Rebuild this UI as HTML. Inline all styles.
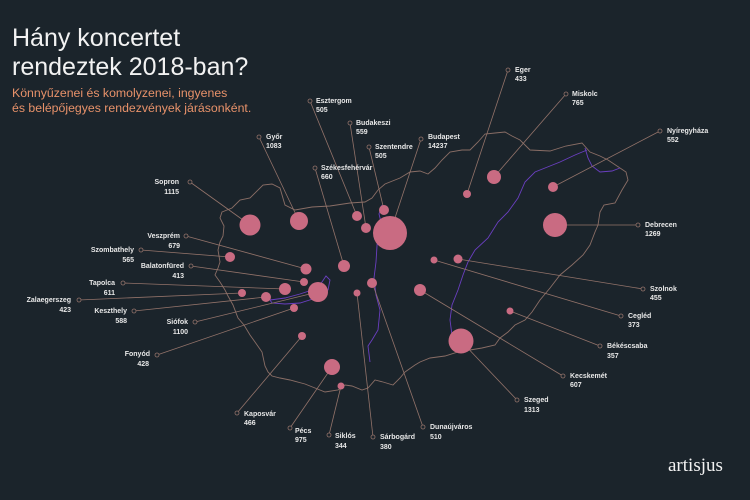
<!DOCTYPE html>
<html><head><meta charset="utf-8"><style>
html,body{margin:0;padding:0;background:#1b242b;}
svg{display:block}
text{font-family:"Liberation Sans",sans-serif;}
.l{font-size:7px;fill:#e8e8e8;font-weight:bold}
</style></head><body>
<svg width="750" height="500" viewBox="0 0 750 500">
<rect width="750" height="500" fill="#1b242b"/>
<text x="12" y="46" font-size="25" fill="#f2f2f2">Hány koncertet</text>
<text x="12" y="75" font-size="25" fill="#f2f2f2">rendeztek 2018-ban?</text>
<text x="12" y="97" font-size="12.3" fill="#e8926a">Könnyűzenei és komolyzenei, ingyenes</text>
<text x="12" y="112" font-size="12.3" fill="#e8926a">és belépőjegyes rendezvények járásonként.</text>
<text x="668" y="471" font-size="19" fill="#f2f2f2" style="font-family:'Liberation Serif',serif">artisjus</text>
<g fill="none" stroke-width="0.9">
<path stroke="#8a6e66" d="M222,212 L232,208 L240,200 L250,198 L263,185 L272,184 L280,188 L285,205 L295,210 L312,207 L330,206 L350,203 L365,202 L372,198 L378,190 L385,184 L400,178 L410,172 L420,171 L428,174 L435,168 L442,160 L450,152 L462,150 L470,150 L478,142 L485,134 L495,133 L505,132 L512,136 L520,140 L530,150 L550,151 L566,146 L582,143 L590,152 L600,156 L608,160 L620,168 L626,172 L628,180 L622,190 L615,203 L604,205 L600,212 L598,225 L595,232 L590,245 L583,255 L572,265 L560,275 L550,288 L540,300 L532,312 L525,320 L515,325 L508,332 L500,338 L495,345 L482,348 L470,350 L458,352 L445,356 L430,358 L420,362 L415,365 L405,372 L400,378 L393,385 L383,382 L375,380 L368,388 L362,390 L352,386 L345,385 L338,390 L325,392 L315,388 L305,384 L290,380 L280,378 L272,376 L268,372 L265,366 L262,352 L255,342 L250,335 L244,325 L238,318 L233,305 L228,296 L225,290 L220,282 L215,275 L218,268 L220,262 L218,250 L220,242 L223,236 L224,226 L220,218 Z"/>
<path stroke="#6a3fc0" d="M382,205 L379,214 L381,222 L378,232 L377,246 L376,262 L374,278 L376,295 L380,310 L378,330 L372,340 L368,346 L370,362"/>
<path stroke="#6a3fc0" d="M585,148 L588,158 L592,166 L600,172 L612,171 L620,168 M587,150 L575,155 L560,162 L545,168 L535,172 L525,182 L518,198 L508,212 L498,222 L488,238 L475,250 L468,262 L463,275 L458,290 L452,305 L450,320 L452,335 L455,345"/>
<path stroke="#6a3fc0" d="M270,300 L285,298 L300,294 L312,290 L322,282 L326,276 L330,280 L328,290 L316,298 L300,303 L285,304 L272,303 Z"/>
</g>
<g stroke="#93736a" stroke-width="0.8" fill="none">
<line x1="467" y1="194" x2="508" y2="70"/>
<line x1="494" y1="177" x2="566" y2="94"/>
<line x1="553" y1="187" x2="660" y2="131"/>
<line x1="555" y1="225" x2="638" y2="225"/>
<line x1="458" y1="259" x2="643" y2="289"/>
<line x1="434" y1="260" x2="621" y2="316"/>
<line x1="510" y1="311" x2="600" y2="346"/>
<line x1="420" y1="290" x2="563" y2="376"/>
<line x1="461" y1="341" x2="517" y2="400"/>
<line x1="372" y1="282" x2="423" y2="427"/>
<line x1="357" y1="293" x2="373" y2="437"/>
<line x1="341" y1="386" x2="329" y2="435"/>
<line x1="332" y1="367" x2="290" y2="428"/>
<line x1="302" y1="336" x2="237" y2="413"/>
<line x1="294" y1="308" x2="157" y2="355"/>
<line x1="318" y1="292" x2="195" y2="322"/>
<line x1="266" y1="297" x2="134" y2="311"/>
<line x1="242" y1="293" x2="79" y2="300"/>
<line x1="285" y1="289" x2="123" y2="283"/>
<line x1="304" y1="282" x2="191" y2="266"/>
<line x1="230" y1="257" x2="141" y2="250"/>
<line x1="306" y1="269" x2="186" y2="236"/>
<line x1="250" y1="225" x2="190" y2="182"/>
<line x1="299" y1="221" x2="259" y2="137"/>
<line x1="344" y1="266" x2="315" y2="168"/>
<line x1="357" y1="216" x2="310" y2="101"/>
<line x1="366" y1="228" x2="350" y2="123"/>
<line x1="384" y1="210" x2="369" y2="147"/>
<line x1="390" y1="233" x2="421" y2="139"/>
</g>
<g fill="#1b242b" stroke="#93736a" stroke-width="0.8">
<circle cx="508" cy="70" r="2"/><circle cx="566" cy="94" r="2"/><circle cx="660" cy="131" r="2"/><circle cx="638" cy="225" r="2"/><circle cx="643" cy="289" r="2"/><circle cx="621" cy="316" r="2"/><circle cx="600" cy="346" r="2"/><circle cx="563" cy="376" r="2"/><circle cx="517" cy="400" r="2"/><circle cx="423" cy="427" r="2"/><circle cx="373" cy="437" r="2"/><circle cx="329" cy="435" r="2"/><circle cx="290" cy="428" r="2"/><circle cx="237" cy="413" r="2"/><circle cx="157" cy="355" r="2"/><circle cx="195" cy="322" r="2"/><circle cx="134" cy="311" r="2"/><circle cx="79" cy="300" r="2"/><circle cx="123" cy="283" r="2"/><circle cx="191" cy="266" r="2"/><circle cx="141" cy="250" r="2"/><circle cx="186" cy="236" r="2"/><circle cx="190" cy="182" r="2"/><circle cx="259" cy="137" r="2"/><circle cx="315" cy="168" r="2"/><circle cx="310" cy="101" r="2"/><circle cx="350" cy="123" r="2"/><circle cx="369" cy="147" r="2"/><circle cx="421" cy="139" r="2"/>
</g>
<g fill="#c96b82">
<circle cx="467" cy="194" r="4"/><circle cx="494" cy="177" r="7"/><circle cx="553" cy="187" r="5"/><circle cx="555" cy="225" r="12"/><circle cx="458" cy="259" r="4.5"/><circle cx="434" cy="260" r="3.5"/><circle cx="510" cy="311" r="3.5"/><circle cx="420" cy="290" r="6"/><circle cx="461" cy="341" r="12.5"/><circle cx="372" cy="283" r="5"/><circle cx="357" cy="293" r="3.5"/><circle cx="341" cy="386" r="3.5"/><circle cx="332" cy="367" r="8"/><circle cx="302" cy="336" r="4"/><circle cx="294" cy="308" r="4"/><circle cx="318" cy="292" r="10"/><circle cx="266" cy="297" r="5"/><circle cx="242" cy="293" r="4"/><circle cx="285" cy="289" r="6"/><circle cx="304" cy="282" r="4"/><circle cx="230" cy="257" r="5"/><circle cx="306" cy="269" r="5.5"/><circle cx="250" cy="225" r="10.5"/><circle cx="299" cy="221" r="9"/><circle cx="344" cy="266" r="6"/><circle cx="357" cy="216" r="5"/><circle cx="366" cy="228" r="5"/><circle cx="384" cy="210" r="5"/><circle cx="390" cy="233" r="17"/>
</g>
<g class="l">
<text x="515" y="72">Eger</text><text x="515" y="81">433</text>
<text x="572" y="96">Miskolc</text><text x="572" y="105">765</text>
<text x="667" y="133">Nyíregyháza</text><text x="667" y="142">552</text>
<text x="645" y="227">Debrecen</text><text x="645" y="236">1269</text>
<text x="650" y="291">Szolnok</text><text x="650" y="300">455</text>
<text x="628" y="318">Cegléd</text><text x="628" y="327">373</text>
<text x="607" y="348">Békéscsaba</text><text x="607" y="358">357</text>
<text x="570" y="378">Kecskemét</text><text x="570" y="387">607</text>
<text x="524" y="402">Szeged</text><text x="524" y="412">1313</text>
<text x="430" y="429">Dunaújváros</text><text x="430" y="439">510</text>
<text x="380" y="439">Sárbogárd</text><text x="380" y="449">380</text>
<text x="335" y="438">Siklós</text><text x="335" y="448">344</text>
<text x="295" y="433">Pécs</text><text x="295" y="442">975</text>
<text x="244" y="416">Kaposvár</text><text x="244" y="425">466</text>
<text x="266" y="139">Győr</text><text x="266" y="148">1083</text>
<text x="321" y="170">Székesfehérvár</text><text x="321" y="179">660</text>
<text x="316" y="103">Esztergom</text><text x="316" y="112">505</text>
<text x="356" y="125">Budakeszi</text><text x="356" y="134">559</text>
<text x="375" y="149">Szentendre</text><text x="375" y="158">505</text>
<text x="428" y="139">Budapest</text><text x="428" y="148">14237</text>
</g>
<g class="l" text-anchor="end">
<text x="150" y="356">Fonyód</text><text x="149" y="366">428</text>
<text x="188" y="324">Siófok</text><text x="188" y="334">1100</text>
<text x="127" y="313">Keszthely</text><text x="127" y="323">588</text>
<text x="71" y="302">Zalaegerszeg</text><text x="71" y="312">423</text>
<text x="115" y="285">Tapolca</text><text x="115" y="295">611</text>
<text x="184" y="268">Balatonfüred</text><text x="184" y="278">413</text>
<text x="134" y="252">Szombathely</text><text x="134" y="262">565</text>
<text x="180" y="238">Veszprém</text><text x="180" y="248">679</text>
<text x="179" y="184">Sopron</text><text x="179" y="194">1115</text>
</g>
</svg>
</body></html>
